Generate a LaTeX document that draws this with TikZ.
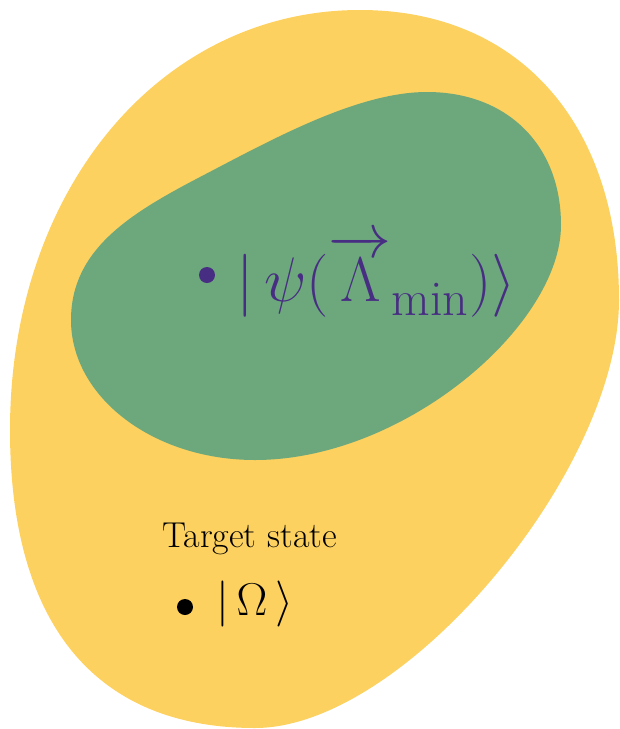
\RequirePackage{fix-cm}
\documentclass[tikz,border=0pt]{standalone}
\usepackage{amsmath}
\definecolor{blobyellow}{HTML}{FDD15F}
\definecolor{blobgreen}{HTML}{6DA87D}
\definecolor{labpurple}{HTML}{482E82}
\begin{document}
\begin{tikzpicture}[x=1pt,y=-1pt,
  dotmark/.style={circle,fill,inner sep=0pt,minimum size=16pt},
  statelabel/.style={anchor=base west,inner sep=0pt}]
\useasboundingbox (0,0) rectangle (620,729);
% outer (yellow) region
\fill[blobyellow] (360,10)
  .. controls (520,10) and (619,125) .. (619,300)
  .. controls (619,470) and (405,728) .. (255,728)
  .. controls (100,728) and (10,630) .. (10,430)
  .. controls (10,190) and (160,10) .. (360,10) -- cycle;
% inner (green) region
\fill[blobgreen] (427,92)
  .. controls (507,92) and (561,145) .. (561,225)
  .. controls (561,325) and (405,460) .. (255,460)
  .. controls (153,460) and (71,397) .. (71,320)
  .. controls (71,250) and (129,214) .. (200,177)
  .. controls (271,140) and (357,92) .. (427,92) -- cycle;
\node[dotmark, fill=labpurple] (psidot) at (207,275) {};
\node[statelabel, text=labpurple, font=\fontsize{63}{75}\selectfont] (psi) at (236,301)
  {$\lvert\,\psi(\overrightarrow{\Lambda}_{\lower5pt\hbox{\fontsize{50}{60}\selectfont min}})\rangle$};
\node[statelabel, font=\fontsize{36}{43}\selectfont] (target) at (162,547) {Target state};
\node[dotmark, fill=black] (omegadot) at (185,607) {};
\node[statelabel, font=\fontsize{46}{55}\selectfont] (omega) at (216,615) {$\lvert\,\Omega\,\rangle$};
\end{tikzpicture}
\end{document}
